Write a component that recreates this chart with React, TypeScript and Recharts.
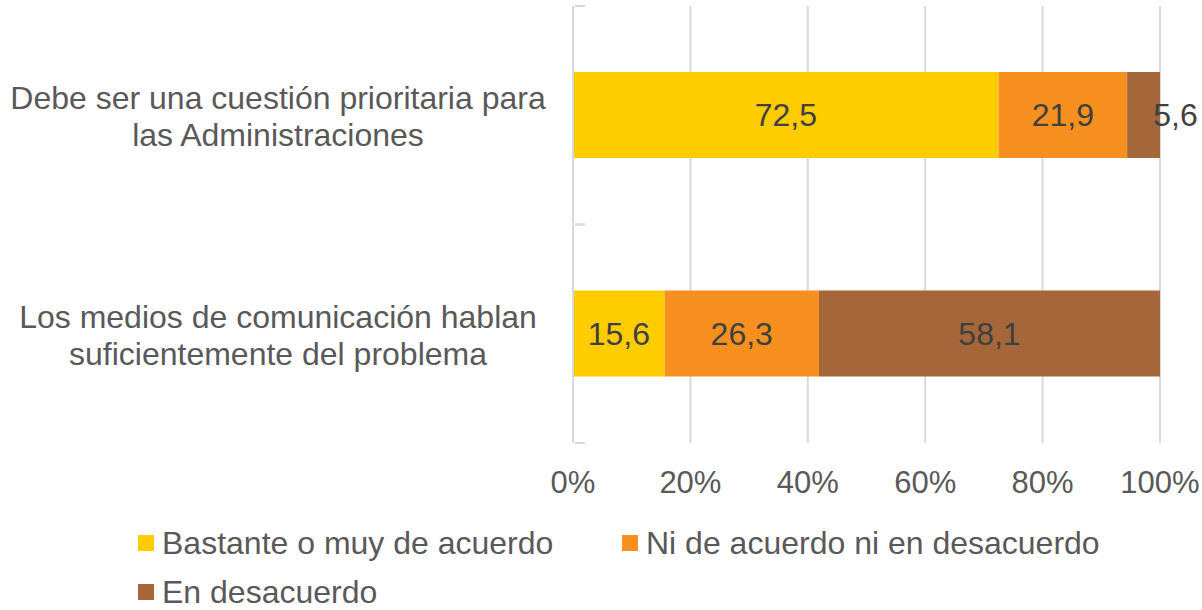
import React from 'react';
import { BarChart, Bar, XAxis, YAxis, CartesianGrid, LabelList } from 'recharts';

const categories = [
  ['Debe ser una cuestión prioritaria para', 'las Administraciones'],
  ['Los medios de comunicación hablan', 'suficientemente del problema'],
];
const seriesNames = ['Bastante o muy de acuerdo', 'Ni de acuerdo ni en desacuerdo', 'En desacuerdo'];
const seriesColors = ['#FFCC00', '#F7901E', '#A5673A'];
const agree = [72.5, 15.6];
const neutral = [21.9, 26.3];
const disagree = [5.6, 58.1];
const xTicks = [0, 20, 40, 60, 80, 100];

const keys = ['agree', 'neutral', 'disagree'];
const data = categories.map((c, i) => ({
  name: c.join('\n'),
  agree: agree[i],
  neutral: neutral[i],
  disagree: disagree[i],
}));

const FONT = '"Liberation Sans", Arial, sans-serif';
const fmt = (v: number) => v.toFixed(1).replace('.', ',');

const CategoryTick = (props: any) => {
  const { x, y, payload } = props;
  const lines = String(payload.value).split('\n');
  const half = payload.offset || 0;
  return (
    <g>
      <line x1={x + 4} x2={x + 14} y1={y - half} y2={y - half} stroke="#d9d9d9" strokeWidth={2} />
      <line x1={x + 4} x2={x + 14} y1={y + half} y2={y + half} stroke="#d9d9d9" strokeWidth={2} />
      <text x={278} y={y} textAnchor="middle" fill="#595959" fontSize={32} fontFamily={FONT}>
        <tspan x={278} dy={-6}>{lines[0]}</tspan>
        <tspan x={278} dy={37}>{lines[1]}</tspan>
      </text>
    </g>
  );
};

const BarLabel = (props: any) => {
  const { x, y, width, height, value } = props;
  const cx = width < 45 ? x + width / 2 + 32 : x + width / 2;
  return (
    <text x={cx} y={y + height / 2} textAnchor="middle" dominantBaseline="central"
      fill="#404040" fontSize={32} fontFamily={FONT}>
      {fmt(value)}
    </text>
  );
};

const legendRows = [[0, 1], [2]];
const legendX = [138, 622];

export default function App() {
  return (
    <div style={{ position: 'absolute', left: 0, top: 0, width: 1202, height: 610, background: '#fff', fontFamily: FONT }}>
      <BarChart
        width={1202}
        height={610}
        data={data}
        layout="vertical"
        margin={{ top: 6, right: 42, left: 0, bottom: 107 }}
        barSize={86}
      >
        <CartesianGrid horizontal={false} stroke="#d9d9d9" strokeWidth={2} />
        <XAxis
          type="number"
          domain={[0, 100]}
          ticks={xTicks}
          tickFormatter={(v) => `${v}%`}
          axisLine={false}
          tickLine={false}
          tickSize={0}
          tickMargin={28}
          height={60}
          tick={{ fill: '#595959', fontSize: 31, fontFamily: FONT }}
          interval={0}
        />
        <YAxis
          type="category"
          dataKey="name"
          width={573}
          axisLine={{ stroke: '#d9d9d9', strokeWidth: 2 }}
          tickLine={false}
          tickSize={0}
          tick={<CategoryTick />}
          interval={0}
        />
        {keys.map((k, i) => (
          <Bar key={k} dataKey={k} stackId="a" fill={seriesColors[i]} isAnimationActive={false}>
            <LabelList dataKey={k} content={<BarLabel />} />
          </Bar>
        ))}
      </BarChart>
      {legendRows.map((row, r) =>
        row.map((si, j) => (
          <div
            key={si}
            style={{
              position: 'absolute',
              left: legendX[j],
              top: 543 + r * 49 - 20,
              height: 40,
              display: 'flex',
              alignItems: 'center',
              color: '#595959',
              fontSize: 32,
              whiteSpace: 'nowrap',
            }}
          >
            <span style={{ display: 'inline-block', width: 16, height: 16, background: seriesColors[si], marginRight: 8 }} />
            {seriesNames[si]}
          </div>
        ))
      )}
    </div>
  );
}
